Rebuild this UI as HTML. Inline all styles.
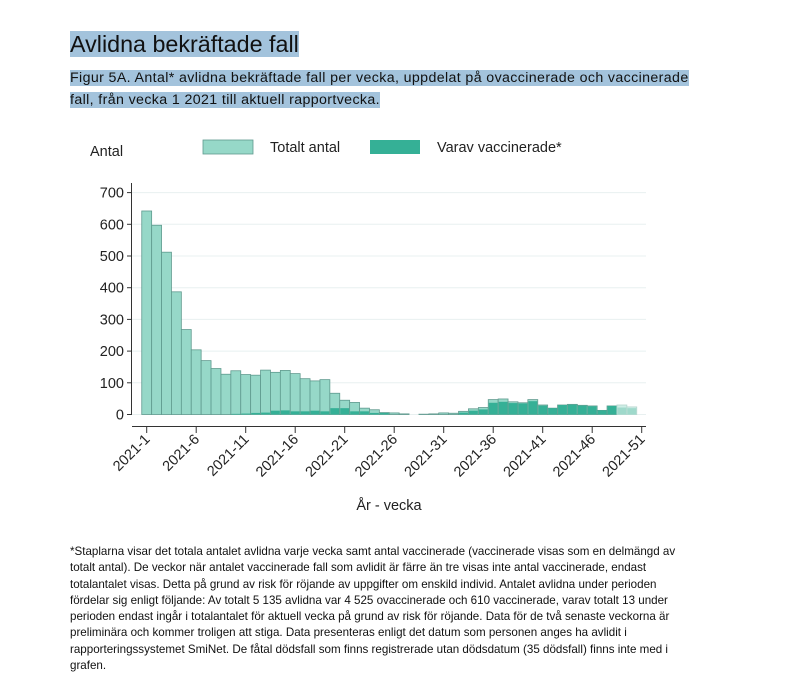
<!DOCTYPE html>
<html><head><meta charset="utf-8"><style>
body{margin:0;background:#fff;width:807px;height:698px;overflow:hidden;position:relative;font-family:"Liberation Sans","DejaVu Sans",sans-serif;}
.hl{background:#a3c3dc;}
#title{position:absolute;left:70px;top:31px;font-size:23.3px;line-height:26px;color:#111;}
#cap{position:absolute;left:70px;top:67px;font-size:14.2px;line-height:22px;color:#111;letter-spacing:0.38px;white-space:nowrap;}
#foot{position:absolute;left:70px;top:544px;font-size:11.6px;line-height:16.3px;color:#111;white-space:nowrap;}
svg{position:absolute;left:0;top:0;}
</style></head><body>
<div id="title"><span class="hl">Avlidna bekräftade fall</span></div>
<div id="cap"><span class="hl">Figur 5A. Antal* avlidna bekräftade fall per vecka, uppdelat på ovaccinerade och vaccinerade</span><br><span class="hl">fall, från vecka 1 2021 till aktuell rapportvecka.</span></div>
<svg id="s" width="807" height="540" xmlns="http://www.w3.org/2000/svg" font-family="Liberation Sans, sans-serif"></svg>
<div id="foot">*Staplarna visar det totala antalet avlidna varje vecka samt antal vaccinerade (vaccinerade visas som en delmängd av<br>totalt antal). De veckor när antalet vaccinerade fall som avlidit är färre än tre visas inte antal vaccinerade, endast<br>totalantalet visas. Detta på grund av risk för röjande av uppgifter om enskild individ. Antalet avlidna under perioden<br>fördelar sig enligt följande: Av totalt 5 135 avlidna var 4 525 ovaccinerade och 610 vaccinerade, varav totalt 13 under<br>perioden endast ingår i totalantalet för aktuell vecka på grund av risk för röjande. Data för de två senaste veckorna är<br>preliminära och kommer troligen att stiga. Data presenteras enligt det datum som personen anges ha avlidit i<br>rapporteringssystemet SmiNet. De fåtal dödsfall som finns registrerade utan dödsdatum (35 dödsfall) finns inte med i<br>grafen.</div>
<script>
var T=[642,597,512,387,268,204,170,145,127,138,126,124,140,133,139,129,113,106,110,67,45,38,20,15,6,5,2,0,1,2,5,4,10,18,22,47,49,40,37,47,30,20,30,32,29,27,13,27,30,24];
var V=[0,0,0,0,0,0,0,0,0,2,3,5,6,12,13,10,10,12,10,20,20,10,10,5,5,0,0,0,0,0,0,0,6,12,16,37,40,36,35,42,28,20,30,31,28,26,13,27,22,20];
var y0=414.5,k=0.317,x1=146.7,dx=9.9;
var s='';
for(var v=0;v<=700;v+=100){var y=y0-v*k;s+='<line x1="132" x2="646" y1="'+y+'" y2="'+y+'" stroke="#e8f0f0" stroke-width="1"/>';
s+='<line x1="127" x2="132" y1="'+y+'" y2="'+y+'" stroke="#333"/>';
s+='<text x="124" y="'+(y+5)+'" font-size="14.5" text-anchor="end" fill="#222">'+v+'</text>';}
s+='<line x1="131.5" x2="131.5" y1="183" y2="415" stroke="#333"/>';
s+='<line x1="132" x2="646" y1="426.5" y2="426.5" stroke="#333"/>';
for(var i=0;i<T.length;i++){var x=x1+i*dx-dx/2;var lt=i>=48;
var h=T[i]*k;if(h>0)s+='<rect x="'+x+'" y="'+(y0-h)+'" width="'+dx+'" height="'+h+'" fill="'+(lt?'#cdeee6':'#96d8c8')+'" stroke="'+(lt?'#b5d5cd':'#5f9a8e')+'" stroke-width="0.8"/>';
var hv=V[i]*k;if(hv>0)s+='<rect x="'+(x+0.5)+'" y="'+(y0-hv)+'" width="'+(dx-1)+'" height="'+hv+'" fill="'+(lt?'#9fd9cb':'#35b096')+'"/>';}
for(var w=1;w<=51;w+=5){var x=x1+(w-1)*dx;s+='<line x1="'+x+'" x2="'+x+'" y1="427" y2="433" stroke="#333"/>';
s+='<text transform="translate('+(x+4)+',440) rotate(-45)" font-size="14.5" text-anchor="end" fill="#222">2021-'+w+'</text>';}
s+='<text x="90" y="156" font-size="14.5" fill="#222">Antal</text>';
s+='<rect x="203" y="140" width="50" height="14" fill="#96d8c8" stroke="#5f9a8e" stroke-width="0.8"/><text x="270" y="152" font-size="14.5" fill="#222">Totalt antal</text>';
s+='<rect x="370" y="140" width="50" height="14" fill="#35b096"/><text x="437" y="152" font-size="14.5" fill="#222">Varav vaccinerade*</text>';
s+='<text x="389" y="510" font-size="14.5" text-anchor="middle" fill="#222">År - vecka</text>';
document.getElementById('s').innerHTML=s;
</script>
</body></html>
